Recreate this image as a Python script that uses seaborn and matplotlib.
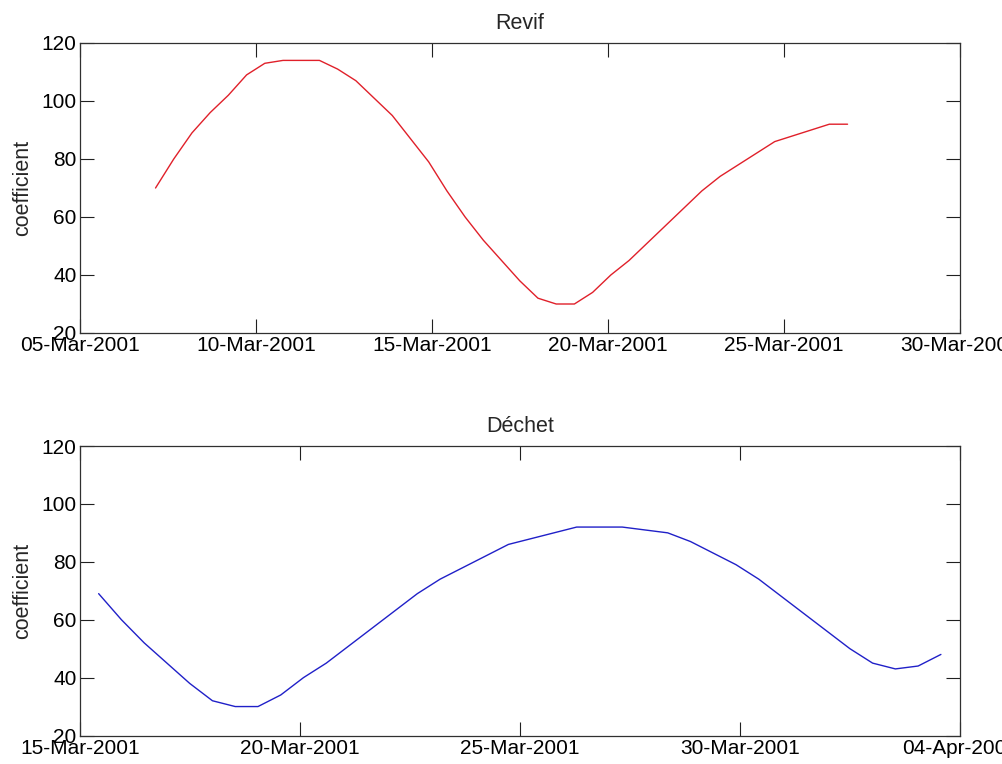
import matplotlib
matplotlib.use("Agg")
import matplotlib.pyplot as plt
import matplotlib.dates as mdates
import seaborn as sns
import pandas as pd

# ---- data (tidal coefficients, one value per tide, ~12h25 apart) ----
revif_start = "2001-03-07 03:30"
revif_coef = [70, 80, 89, 96, 102, 109, 113, 114, 114, 114, 111, 107, 101, 95, 87, 79,
              69, 60, 52, 45, 38, 32, 30, 30, 34, 40, 45, 51, 57, 63, 69, 74, 78, 82,
              86, 88, 90, 92, 92]

dechet_start = "2001-03-15 10:10"
dechet_coef = [69, 60, 52, 45, 38, 32, 30, 30, 34, 40, 45, 51, 57, 63, 69, 74, 78, 82,
               86, 88, 90, 92, 92, 92, 91, 90, 87, 83, 79, 74, 68, 62, 56, 50, 45, 43,
               44, 48]
tide_step = "745min"

revif_ticks = ["2001-03-05", "2001-03-10", "2001-03-15", "2001-03-20", "2001-03-25", "2001-03-30"]
dechet_ticks = ["2001-03-15", "2001-03-20", "2001-03-25", "2001-03-30", "2001-04-04"]
yticks = [20, 40, 60, 80, 100, 120]

titles = ["Revif", "Déchet"]
ylabel = "coefficient"

# ---- style ----
sns.set_style("white")
plt.rcParams["font.family"] = ["Liberation Sans", "DejaVu Sans"]
FS = 15

fig = plt.figure(figsize=(10.03, 7.64), dpi=100)
ax1 = fig.add_axes([80 / 1003, (764 - 333) / 764, 880 / 1003, 290 / 764])
ax2 = fig.add_axes([80 / 1003, (764 - 735.5) / 764, 880 / 1003, 289.5 / 764])

df1 = pd.DataFrame({
    "t": pd.date_range(revif_start, periods=len(revif_coef), freq=tide_step),
    "c": revif_coef,
})
df2 = pd.DataFrame({
    "t": pd.date_range(dechet_start, periods=len(dechet_coef), freq=tide_step),
    "c": dechet_coef,
})

sns.lineplot(data=df1, x="t", y="c", ax=ax1, color="#e0202a", linewidth=1.0)
sns.lineplot(data=df2, x="t", y="c", ax=ax2, color="#2020c8", linewidth=1.0)

for ax, ticks, title in [(ax1, revif_ticks, titles[0]), (ax2, dechet_ticks, titles[1])]:
    tks = pd.to_datetime(ticks)
    ax.set_xlim(tks[0], tks[-1])
    ax.set_xticks(tks)
    ax.xaxis.set_major_formatter(mdates.DateFormatter("%d-%b-%Y"))
    ax.set_ylim(20, 120)
    ax.set_yticks(yticks)
    ax.tick_params(direction="in", top=True, right=True, bottom=True, left=True,
                   length=10, width=0.8, colors="#202020", labelsize=FS, pad=2.5)
    for lab in ax.get_xticklabels() + ax.get_yticklabels():
        lab.set_color("black")
    for s in ax.spines.values():
        s.set_visible(True)
        s.set_color("#303030")
        s.set_linewidth(0.9)
    ax.set_title(title, fontsize=15.5, pad=10)
    ax.set_xlabel("")
    ax.set_ylabel(ylabel, fontsize=15.5, labelpad=6)
    ax.grid(False)

fig.savefig("out.png", dpi=100)
